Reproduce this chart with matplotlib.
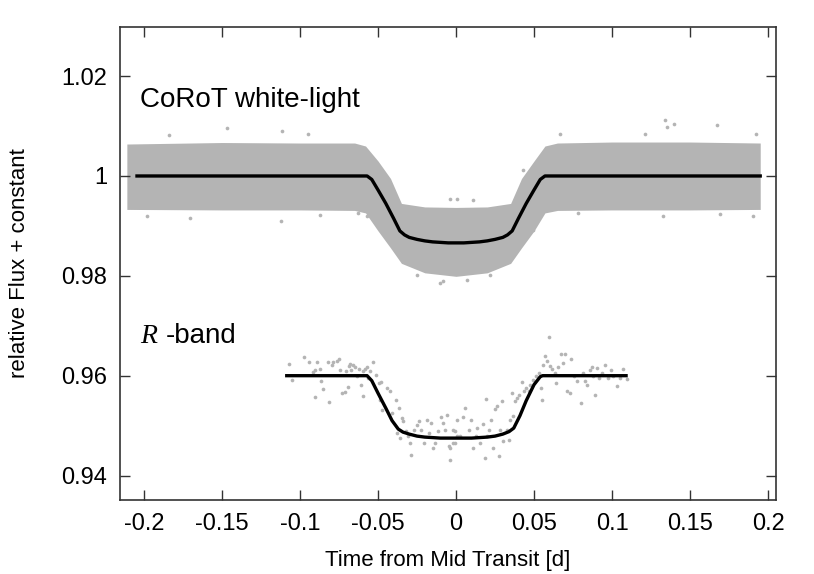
import matplotlib
matplotlib.use("Agg")
import matplotlib.pyplot as plt

plt.rcParams["font.family"] = ["Liberation Sans", "DejaVu Sans"]

GRAY = "#b4b4b4"

# CoRoT white-light: envelope of the dense point cloud
corot_env_t = [-0.211, -0.15, -0.10, -0.065, -0.058, -0.050, -0.042, -0.035,
               -0.020, 0.0, 0.020, 0.035, 0.042, 0.050, 0.057, 0.065,
               0.10, 0.15, 0.195]
corot_env_hi = [1.0064, 1.0067, 1.0066, 1.0066, 1.0060, 1.0030, 0.9995, 0.9945,
                0.9938, 0.9937, 0.9938, 0.9945, 0.9995, 1.0030, 1.0060, 1.0066,
                1.0068, 1.0068, 1.0066]
corot_env_lo = [0.9933, 0.9932, 0.9932, 0.9931, 0.9926, 0.9890, 0.9856, 0.9825,
                0.9806, 0.9799, 0.9806, 0.9825, 0.9856, 0.9890, 0.9926, 0.9931,
                0.9932, 0.9932, 0.9933]

# isolated CoRoT points outside the dense cloud
corot_out_t = [-0.184, -0.1466, -0.1115, -0.0949, -0.1983, -0.1705, -0.1124,
               -0.0872, -0.0573, 0.1340, 0.1350, 0.1397, 0.1675, 0.0667, 0.1212,
               0.1923, 0.0784, 0.1329, 0.1692, 0.1906, 0.0432, -0.0103, -0.0081,
               0.0068, -0.0252, 0.0218, -0.0038, 0.0111, 0.0004, 0.0496, -0.0626]
corot_out_f = [1.0082, 1.0096, 1.0091, 1.0084, 0.9919, 0.9916, 0.9909,
               0.9922, 0.9919, 1.0112, 1.0099, 1.0105, 1.0102, 1.0084, 1.0084,
               1.0085, 0.9925, 0.9919, 0.9924, 0.9919, 1.0012, 0.9786, 0.9789,
               0.9792, 0.9802, 0.9802, 0.9953, 0.9951, 0.9953, 0.9892, 0.9925]

# CoRoT transit model
corot_mod_t = [-0.2045, -0.057, -0.054, -0.050, -0.045, -0.040, -0.036, -0.033,
               -0.030, -0.025, -0.020, -0.015, -0.010, -0.005, 0.0, 0.005,
               0.010, 0.015, 0.020, 0.025, 0.030, 0.033, 0.036, 0.040, 0.045,
               0.050, 0.054, 0.057, 0.195]
corot_mod_f = [1.0, 1.0, 0.9993, 0.9972, 0.9945, 0.9915, 0.9890, 0.9882,
               0.9877, 0.9873, 0.9870, 0.9868, 0.9867, 0.9866, 0.9866, 0.9866,
               0.9867, 0.9868, 0.9870, 0.9873, 0.9877, 0.9882, 0.9890, 0.9915,
               0.9945, 0.9972, 0.9993, 1.0, 1.0]

# R-band photometry
rband_t = [-0.1068, -0.1051, -0.0974, -0.0940, -0.0919, -0.0906, -0.0889, -0.0872,
           -0.0863, -0.0855, -0.0906, -0.0816, -0.0821, -0.0795, -0.0786, -0.0761,
           -0.0748, -0.0744, -0.0731, -0.0709, -0.0705, -0.0692, -0.0688, -0.0679,
           -0.0671, -0.0658, -0.0645, -0.0637, -0.0620, -0.0607, -0.0598, -0.0594,
           -0.0581, -0.0568, -0.0564, -0.0551, -0.0530, -0.0513, -0.0496, -0.0479,
           -0.0487, -0.0474, -0.0440, -0.0423, -0.0410, -0.0385, -0.0368, -0.0380,
           -0.0359, -0.0346, -0.0338, -0.0321, -0.0308, -0.0295, -0.0286, -0.0269,
           -0.0252, -0.0239, -0.0222, -0.0205, -0.0188, -0.0175, -0.0158, -0.0150,
           -0.0137, -0.0115, -0.0098, -0.0085, -0.0068, -0.0056, -0.0043, -0.0038,
           -0.0021, -0.0004, 0.0009,
           -0.0038, -0.0017, -0.0004, 0.0004, 0.0026, 0.0047, 0.0060, 0.0081,
           0.0094, 0.0111, 0.0128, 0.0137, 0.0154, 0.0171, 0.0184, 0.0192,
           0.0197, 0.0214, 0.0226, 0.0235, 0.0248, 0.0261, 0.0278, 0.0282,
           0.0295, 0.0303, 0.0325, 0.0338, 0.0346, 0.0359, 0.0368, 0.0380,
           0.0393, 0.0406, 0.0423, 0.0436, 0.0449, 0.0466, 0.0474, 0.0496,
           0.0513, 0.0530, 0.0543, 0.0551, 0.0560, 0.0568, 0.0581, 0.0598,
           0.0603, 0.0615, 0.0632, 0.0641, 0.0654, 0.0675, 0.0684, 0.0701,
           0.0714, 0.0731, 0.0739, 0.0756, 0.0774, 0.0799, 0.0812, 0.0825,
           0.0838, 0.0859, 0.0872, 0.0880, 0.0893, 0.0902, 0.0919, 0.0936,
           0.0957, 0.0974, 0.0991, 0.1009, 0.1030, 0.1051, 0.1073, 0.1094]
rband_f = [0.9623, 0.9592, 0.9637, 0.9627, 0.9607, 0.9612, 0.9627, 0.9614,
           0.9589, 0.9574, 0.9557, 0.9548, 0.9628, 0.9622, 0.9627, 0.9629,
           0.9633, 0.9612, 0.9565, 0.9568, 0.9609, 0.9577, 0.9619, 0.9623,
           0.9612, 0.9622, 0.9617, 0.9599, 0.9613, 0.9582, 0.9560, 0.9609,
           0.9613, 0.9617, 0.9595, 0.9609, 0.9627, 0.9602, 0.9585, 0.9587,
           0.9552, 0.9532, 0.9575, 0.9570, 0.9525, 0.9551, 0.9535, 0.9485,
           0.9475, 0.9515, 0.9509, 0.9489, 0.9479, 0.9465, 0.9441, 0.9492,
           0.9502, 0.9509, 0.9492, 0.9465, 0.9512, 0.9485, 0.9505, 0.9455,
           0.9465, 0.9489, 0.9517, 0.9505, 0.9492, 0.9522, 0.9459, 0.9431,
           0.9492, 0.9465, 0.9479,
           0.9455, 0.9465, 0.9489, 0.9512, 0.9479, 0.9517, 0.9535, 0.9492,
           0.9511, 0.9455, 0.9479, 0.9495, 0.9465, 0.9504, 0.9435, 0.9553,
           0.9479, 0.9492, 0.9512, 0.9455, 0.9534, 0.9539, 0.9440, 0.9492,
           0.9549, 0.9469, 0.9492, 0.9472, 0.9512, 0.9565, 0.9519, 0.9549,
           0.9555, 0.9562, 0.9587, 0.9569, 0.9575, 0.9569, 0.9582, 0.9592,
           0.9599, 0.9605, 0.9575, 0.9551, 0.9622, 0.9640, 0.9629, 0.9677,
           0.9619, 0.9613, 0.9605, 0.9585, 0.9617, 0.9644, 0.9625, 0.9644,
           0.9569, 0.9565, 0.9633, 0.9599, 0.9589, 0.9545, 0.9605, 0.9589,
           0.9582, 0.9612, 0.9617, 0.9599, 0.9562, 0.9615, 0.9595, 0.9605,
           0.9622, 0.9595, 0.9612, 0.9599, 0.9580, 0.9595, 0.9613, 0.9593]

# R-band transit model
rband_mod_t = [-0.1085, -0.057, -0.054, -0.050, -0.045, -0.041, -0.037, -0.034,
               -0.030, -0.025, -0.020, -0.015, -0.010, -0.005, 0.0, 0.005,
               0.010, 0.015, 0.020, 0.025, 0.030, 0.034, 0.037, 0.041, 0.045,
               0.050, 0.054, 0.0555, 0.109]
rband_mod_f = [0.960, 0.960, 0.9590, 0.9565, 0.9535, 0.9510, 0.9493, 0.9487,
               0.9483, 0.9479, 0.9477, 0.9476, 0.9475, 0.9475, 0.9475, 0.9475,
               0.9475, 0.9476, 0.9477, 0.9479, 0.9483, 0.9488, 0.9495, 0.9520,
               0.9550, 0.9582, 0.9598, 0.960, 0.960]

fig = plt.figure(figsize=(8.14, 5.74), dpi=100)
ax = fig.add_axes([0.1474, 0.1289, 0.8059, 0.8246])

ax.fill_between(corot_env_t, corot_env_lo, corot_env_hi, color=GRAY,
                linewidth=0, zorder=1)
ax.scatter(corot_out_t, corot_out_f, s=7, color=GRAY, linewidths=0, zorder=1)
ax.scatter(rband_t, rband_f, s=7, color=GRAY, linewidths=0, zorder=1)

ax.plot(corot_mod_t, corot_mod_f, color="black", lw=2.4, zorder=3)
ax.plot(rband_mod_t, rband_mod_f, color="black", lw=2.4, zorder=3)

ax.set_xlim(-0.2154, 0.2051)
ax.set_ylim(0.9351, 1.0299)
ax.set_xticks([-0.2, -0.15, -0.1, -0.05, 0, 0.05, 0.1, 0.15, 0.2])
ax.set_xticklabels(["-0.2", "-0.15", "-0.1", "-0.05", "0", "0.05", "0.1",
                    "0.15", "0.2"])
ax.set_yticks([0.94, 0.96, 0.98, 1.0, 1.02])
ax.set_yticklabels(["0.94", "0.96", "0.98", "1", "1.02"])
ax.tick_params(direction="in", length=7, width=1, top=True, right=True,
               labelsize=17, pad=9, color="#333333")
for s in ax.spines.values():
    s.set_color("#333333")
    s.set_linewidth(1.2)

ax.set_xlabel("Time from Mid Transit [d]", fontsize=16, labelpad=11)
ax.set_ylabel("relative Flux + constant", fontsize=16, labelpad=23)

ax.text(-0.2026, 1.0138, "CoRoT white-light", fontsize=20, ha="left",
        va="baseline")
ax.text(-0.2026, 0.9666, "R", fontsize=20, ha="left", va="baseline",
        family=["Liberation Serif", "DejaVu Serif"], style="italic")
ax.text(-0.1859, 0.9666, "-band", fontsize=20, ha="left", va="baseline")

fig.savefig("out.png", dpi=100)
